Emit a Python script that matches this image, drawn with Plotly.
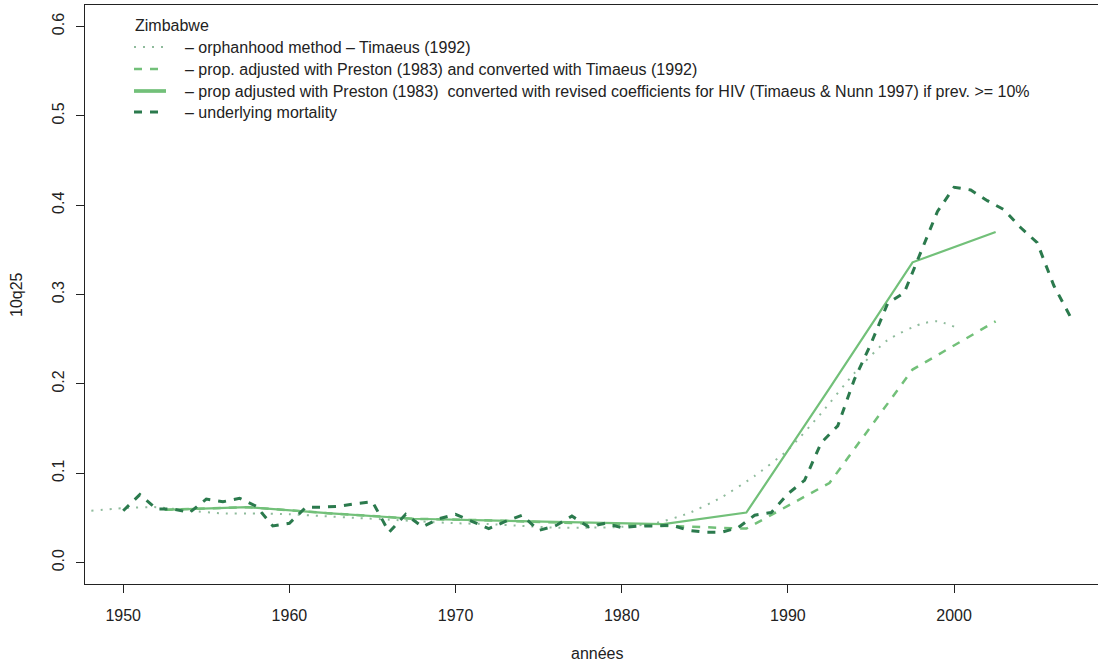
import plotly.graph_objects as go

# --- data -------------------------------------------------------------
# five-year period midpoints used by the proportion-based estimates
period_mid = [1952.5, 1957.5, 1962.5, 1967.5, 1972.5, 1977.5,
              1982.5, 1987.5, 1992.5, 1997.5, 2002.5]

prop_timaeus = [0.059, 0.062, 0.055, 0.049, 0.047, 0.044,
                0.041, 0.038, 0.089, 0.216, 0.270]

prop_hiv = [0.059, 0.062, 0.055, 0.049, 0.047, 0.045,
            0.043, 0.056, 0.195, 0.336, 0.370]

# orphanhood method (smoothed curve)
orph_years = [1947, 1950, 1952, 1954, 1956, 1958, 1960, 1962, 1964, 1966,
              1968, 1970, 1972, 1974, 1976, 1978, 1980, 1982, 1984, 1986,
              1988, 1990, 1992, 1994, 1996, 1998, 1999, 2000]
orph_q = [0.056, 0.061, 0.062, 0.058, 0.055, 0.055, 0.054, 0.052, 0.050, 0.048,
          0.046, 0.044, 0.043, 0.041, 0.039, 0.039, 0.040, 0.044, 0.055, 0.073,
          0.097, 0.126, 0.167, 0.212, 0.249, 0.267, 0.270, 0.264]

# underlying (true) mortality, annual
under_years = list(range(1950, 2008))
under_q = [0.058, 0.076, 0.060, 0.060, 0.056, 0.071, 0.068, 0.072, 0.063, 0.041,
           0.044, 0.062, 0.062, 0.063, 0.066, 0.068, 0.034, 0.054, 0.040, 0.049,
           0.054, 0.046, 0.038, 0.046, 0.053, 0.036, 0.041, 0.052, 0.040, 0.044,
           0.039, 0.041, 0.041, 0.042, 0.036, 0.034, 0.034, 0.039, 0.053, 0.056,
           0.077, 0.092, 0.134, 0.153, 0.205, 0.245, 0.290, 0.302, 0.348, 0.393,
           0.420, 0.417, 0.405, 0.395, 0.375, 0.358, 0.310, 0.275]

x_ticks = [1950, 1960, 1970, 1980, 1990, 2000]
x_tick_labels = ["1950", "1960", "1970", "1980", "1990", "2000"]
y_ticks = [0.0, 0.1, 0.2, 0.3, 0.4, 0.5, 0.6]
y_tick_labels = ["0.0", "0.1", "0.2", "0.3", "0.4", "0.5", "0.6"]

legend_title = "Zimbabwe"
legend_labels = [
    "\u2013 orphanhood method \u2013 Timaeus (1992)",
    "\u2013 prop. adjusted with Preston (1983) and converted with Timaeus (1992)",
    "\u2013 prop adjusted with Preston (1983)\u00a0 converted with revised coefficients for HIV (Timaeus & Nunn 1997) if prev. >= 10%",
    "\u2013 underlying mortality",
]

# --- styles -----------------------------------------------------------
FONT = "Arial, Liberation Sans, sans-serif"
C_DOT = "#8fbb9c"
C_LIGHT = "#72c079"
C_DARK = "#2b7a4d"
AXIS_C = "#222222"

styles = [
    dict(color=C_DOT, width=2, dash="2px,7px"),
    dict(color=C_LIGHT, width=2.5, dash="8px,8px"),
    dict(color=C_LIGHT, width=2.2, dash="solid"),
    dict(color=C_DARK, width=3, dash="8px,8px"),
]

fig = go.Figure()
fig.add_trace(go.Scatter(x=orph_years, y=orph_q, mode="lines",
                         line=dict(styles[0], shape="spline", smoothing=0.6)))
fig.add_trace(go.Scatter(x=period_mid, y=prop_timaeus, mode="lines", line=styles[1]))
fig.add_trace(go.Scatter(x=period_mid, y=prop_hiv, mode="lines", line=styles[2]))
fig.add_trace(go.Scatter(x=under_years, y=under_q, mode="lines", line=styles[3]))

W, H = 1098, 663
L, R, T, B = 85, 0, 5, 79
pw, ph = W - L - R, H - T - B


def px_x(p):
    return (p - L) / pw


def px_y(p):
    return (H - B - p) / ph


# legend drawn by hand, in the top-left corner of the plotting region
shapes = []
annotations = [dict(text=legend_title, x=px_x(133), y=px_y(25), xref="paper", yref="paper",
                    xanchor="left", yanchor="middle", showarrow=False,
                    font=dict(family=FONT, size=16, color="#222"))]
row_y = [47, 69, 91, 112]
for st, lab, ry in zip(styles, legend_labels, row_y):
    shapes.append(dict(type="line", xref="paper", yref="paper",
                       x0=px_x(134), x1=px_x(166), y0=px_y(ry), y1=px_y(ry),
                       line=dict(color=st["color"], width=st["width"] + (1.5 if st["dash"] == "solid" else 0),
                                 dash=st["dash"])))
    annotations.append(dict(text=lab, x=px_x(183), y=px_y(ry), xref="paper", yref="paper",
                            xanchor="left", yanchor="middle", showarrow=False,
                            font=dict(family=FONT, size=16, color="#222")))

# axis titles
annotations.append(dict(text="années", x=px_x(597), y=px_y(653), xref="paper", yref="paper",
                        xanchor="center", yanchor="middle", showarrow=False,
                        font=dict(family=FONT, size=16, color="#222")))
annotations.append(dict(text="10q25", x=px_x(17), y=px_y(295), xref="paper", yref="paper",
                        xanchor="center", yanchor="middle", showarrow=False, textangle=-90,
                        font=dict(family=FONT, size=16, color="#222")))

fig.update_layout(
    width=W, height=H,
    margin=dict(l=L, r=R, t=T, b=B, pad=0),
    paper_bgcolor="white", plot_bgcolor="white",
    showlegend=False,
    font=dict(family=FONT, size=16, color="#222"),
    shapes=shapes, annotations=annotations,
    xaxis=dict(range=[1947.70, 2008.66], tickvals=x_ticks, ticktext=x_tick_labels,
               showgrid=False, zeroline=False, showline=True, mirror=True,
               linecolor=AXIS_C, linewidth=1, ticks="outside", ticklen=8,
               tickcolor=AXIS_C, tickwidth=1, ticklabelstandoff=9,
               tickfont=dict(family=FONT, size=16, color="#222")),
    yaxis=dict(range=[-0.024, 0.624], tickvals=y_ticks, ticktext=y_tick_labels,
               showgrid=False, zeroline=False, showline=True, mirror=False,
               linecolor=AXIS_C, linewidth=1, ticks="outside", ticklen=8,
               tickcolor=AXIS_C, tickwidth=1, tickangle=-90, ticklabelstandoff=6,
               tickfont=dict(family=FONT, size=16, color="#222")),
)

fig.write_html("out.html")
